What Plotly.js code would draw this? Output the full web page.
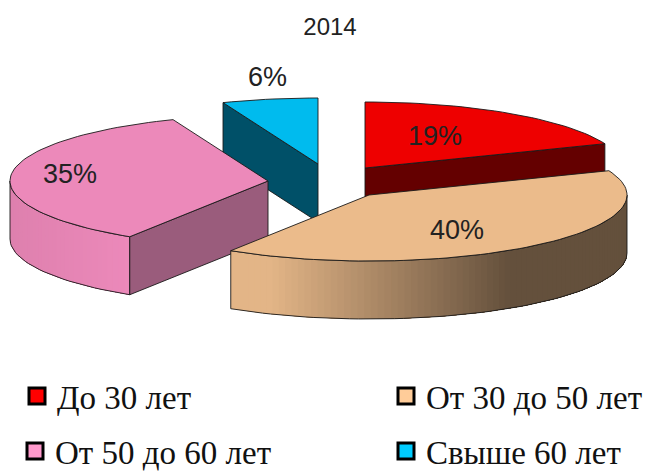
<!DOCTYPE html>
<html>
<head>
<meta charset="utf-8">
<script src="https://cdn.plot.ly/plotly-3.0.1.min.js"></script>
<style>html,body{margin:0;padding:0;background:#fff}#chart{width:649px;height:472px}</style>
</head>
<body>
<div id="chart"></div>
<script>
// Data
var chartTitle = '2014';
var categories = ['До 30 лет', 'От 30 до 50 лет', 'От 50 до 60 лет', 'Свыше 60 лет'];
var shares = [19, 40, 35, 6];

// Styles
var topColors = ['#EE0000', '#EBBB8B', '#EC89BA', '#00BBEE'];
var faceColors = ['#640000', '#64503C', '#9A5C7C', '#005068'];
var legendColors = ['#FF0000', '#FFCC99', '#FF99CC', '#00CCFF'];
var wallFrom = [null, [227, 181, 135], [222, 128, 174], null];
var wallTo = [null, [100, 80, 60], [236, 137, 186], null];

// Projection of the exploded pie: apex of each slice in page pixels
var apexX = [365, 369, 268, 318];
var apexY = [168, 195, 181, 164];
var labelX = [435, 457, 70, 267];
var labelY = [136, 230, 174, 77];
var legendX = [17, 386, 15, 386];
var legendY = [396, 396, 451, 451];
var rx = 258, ry = 66, depth = 58;

var rad = Math.PI / 180;
function rim(i, deg, drop) {
  return [apexX[i] + rx * Math.sin(deg * rad), apexY[i] - ry * Math.cos(deg * rad) + (drop || 0)];
}
var sliceStart = [], sliceEnd = [], acc = 0;
shares.forEach(function (s, i) { sliceStart[i] = acc * 3.6; acc += s; sliceEnd[i] = acc * 3.6; });

var traces = [];
function poly(pts, fill, lineColor, lw) {
  traces.push({
    type: 'scatter', mode: 'lines', x: pts.map(function (p) { return p[0]; }).concat(pts[0][0]),
    y: pts.map(function (p) { return p[1]; }).concat(pts[0][1]), fill: 'toself', fillcolor: fill,
    line: { color: lineColor, width: lw }, showlegend: false, hoverinfo: 'skip'
  });
}
function arc(i, a, b, drop) {
  var pts = [], n = Math.max(2, Math.round(Math.abs(b - a) / 2));
  for (var k = 0; k <= n; k++) pts.push(rim(i, a + (b - a) * k / n, drop));
  return pts;
}
function topFace(i) {
  poly([[apexX[i], apexY[i]]].concat(arc(i, sliceStart[i], sliceEnd[i], 0)), topColors[i], '#1a1a1a', 0.9);
}
function radialFace(i, deg) {
  var r = rim(i, deg, 0);
  poly([[apexX[i], apexY[i]], r, [r[0], r[1] + depth], [apexX[i], apexY[i] + depth]], faceColors[i], '#1a1a1a', 0.9);
}
// Wall shading: each band runs to the far end of the wall and the next paints over it, so no seams show
function wall(i, a, b, darkenFrom, darkenTo) {
  var steps = Math.round(Math.abs(b - a) / 1.5);
  for (var s = 0; s < steps; s++) {
    var a0 = a + (b - a) * s / steps, a1 = a + (b - a) * (s + 1) / steps;
    var xm = rim(i, (a0 + a1) / 2)[0];
    var t = Math.min(1, Math.max(0, (xm - darkenFrom) / (darkenTo - darkenFrom)));
    var c = 'rgb(' + [0, 1, 2].map(function (k) {
      return Math.round(wallFrom[i][k] + (wallTo[i][k] - wallFrom[i][k]) * t);
    }).join(',') + ')';
    poly(arc(i, a0, b, 0).concat(arc(i, b, a0, depth)), c, c, 0);
  }
  var outline = arc(i, a, b, 0).concat(arc(i, b, a, depth));
  traces.push({
    type: 'scatter', mode: 'lines', x: outline.map(function (p) { return p[0]; }).concat(outline[0][0]),
    y: outline.map(function (p) { return p[1]; }).concat(outline[0][1]),
    line: { color: '#1a1a1a', width: 0.9 }, showlegend: false, hoverinfo: 'skip'
  });
}

// Back to front
radialFace(3, sliceStart[3]); topFace(3);
radialFace(0, sliceEnd[0]); topFace(0);
wall(2, 270, sliceStart[2], 10, 130);
radialFace(2, sliceStart[2]); topFace(2);
wall(1, sliceEnd[1], 90, 270, 510);
topFace(1);

// Legend entries
var layoutLegends = {};
categories.forEach(function (name, i) {
  var id = i === 0 ? 'legend' : 'legend' + (i + 1);
  traces.push({
    type: 'scatter', mode: 'markers', x: [null], y: [null], name: name, legend: id,
    marker: { symbol: 'square', size: 16, color: legendColors[i], line: { color: '#000', width: 3 } }
  });
  layoutLegends[id] = {
    x: legendX[i] / 649, y: 1 - legendY[i] / 472, xanchor: 'left', yanchor: 'middle',
    bgcolor: 'rgba(0,0,0,0)', borderwidth: 0, itemclick: false, itemdoubleclick: false,
    font: { family: 'Liberation Serif, serif', size: 33, color: '#111' }
  };
});

var annotations = shares.map(function (s, i) {
  return {
    xref: 'x', yref: 'y', x: labelX[i], y: labelY[i], text: s + '%', showarrow: false,
    font: { family: 'Liberation Sans, Arial, sans-serif', size: 27, color: '#222' }
  };
});

var layout = Object.assign({
  width: 649, height: 472, margin: { l: 0, r: 0, t: 0, b: 0, autoexpand: false },
  paper_bgcolor: '#fff', plot_bgcolor: '#fff',
  title: { text: chartTitle, x: 330 / 649, xanchor: 'center', y: 1 - 27 / 472, yanchor: 'middle',
    font: { family: 'Liberation Sans, Arial, sans-serif', size: 24, color: '#222' } },
  xaxis: { range: [0, 649], visible: false, fixedrange: true },
  yaxis: { range: [472, 0], visible: false, fixedrange: true },
  annotations: annotations, showlegend: true
}, layoutLegends);

Plotly.newPlot('chart', traces, layout, { displayModeBar: false });
</script>
</body>
</html>
